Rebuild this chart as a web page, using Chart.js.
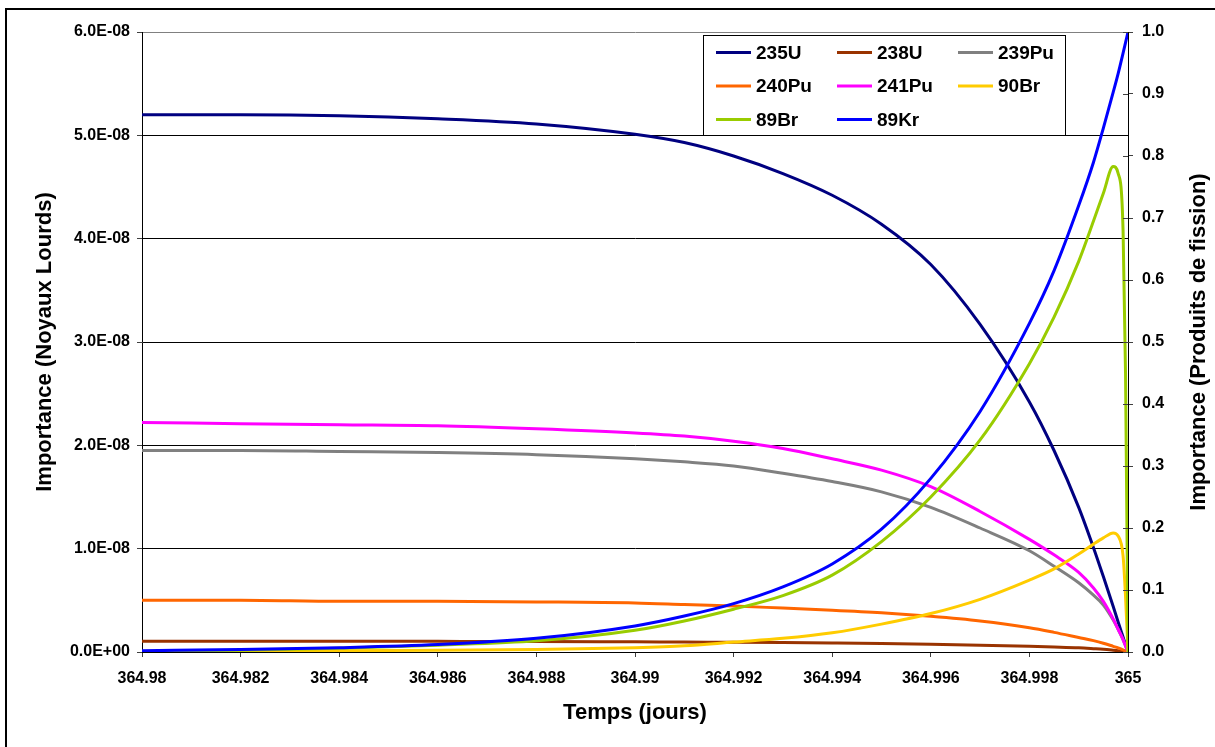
<!DOCTYPE html>
<html>
<head>
<meta charset="utf-8">
<script src="https://cdn.jsdelivr.net/npm/chart.js@4.4.0/dist/chart.umd.min.js"></script>
<style>
  html, body { margin: 0; padding: 0; background: #fff; overflow: hidden; }
  #wrap { position: relative; width: 1215px; height: 747px; }
  #frame { position: absolute; left: 5px; top: 8px; width: 1300px; height: 900px; border: 2px solid #000; }
  canvas { position: absolute; left: 0; top: 0; }
</style>
</head>
<body>
<div id="wrap">
  <div id="frame"></div>
  <canvas id="myChart" width="1215" height="747"></canvas>
</div>
<script>
/* --- donnees --- */
const temps = [364.98, 364.982, 364.984, 364.986, 364.988, 364.99, 364.991, 364.992, 364.993, 364.994,
               364.995, 364.996, 364.997, 364.998, 364.9985, 364.999, 364.9993, 364.9995, 364.9997,
               364.9998, 364.9999, 364.99995, 365];

// noyaux lourds (axe de gauche)
const u235  = [5.20e-8, 5.20e-8, 5.19e-8, 5.16e-8, 5.11e-8, 5.01e-8, 4.93e-8, 4.80e-8, 4.63e-8, 4.42e-8,
               4.14e-8, 3.75e-8, 3.17e-8, 2.42e-8, 1.95e-8, 1.40e-8, 1.01e-8, 0.73e-8, 0.44e-8,
               0.29e-8, 0.145e-8, 0.072e-8, 0];
const u238  = [1.05e-9, 1.05e-9, 1.04e-9, 1.03e-9, 1.02e-9, 0.98e-9, 0.96e-9, 0.94e-9, 0.91e-9, 0.87e-9,
               0.82e-9, 0.75e-9, 0.66e-9, 0.55e-9, 0.48e-9, 0.40e-9, 0.32e-9, 0.26e-9, 0.17e-9,
               0.12e-9, 0.07e-9, 0.03e-9, 0];
const pu239 = [1.95e-8, 1.95e-8, 1.94e-8, 1.93e-8, 1.91e-8, 1.87e-8, 1.84e-8, 1.80e-8, 1.73e-8, 1.65e-8,
               1.55e-8, 1.40e-8, 1.20e-8, 0.98e-8, 0.83e-8, 0.67e-8, 0.55e-8, 0.455e-8, 0.31e-8,
               0.22e-8, 0.12e-8, 0.06e-8, 0];
const pu240 = [0.50e-8, 0.50e-8, 0.49e-8, 0.49e-8, 0.485e-8, 0.475e-8, 0.46e-8, 0.445e-8, 0.425e-8, 0.405e-8,
               0.38e-8, 0.345e-8, 0.30e-8, 0.235e-8, 0.19e-8, 0.14e-8, 0.11e-8, 0.085e-8, 0.055e-8,
               0.04e-8, 0.02e-8, 0.01e-8, 0];
const pu241 = [2.22e-8, 2.21e-8, 2.20e-8, 2.19e-8, 2.16e-8, 2.12e-8, 2.09e-8, 2.04e-8, 1.97e-8, 1.87e-8,
               1.76e-8, 1.60e-8, 1.36e-8, 1.09e-8, 0.94e-8, 0.77e-8, 0.62e-8, 0.49e-8, 0.32e-8,
               0.22e-8, 0.12e-8, 0.06e-8, 0];

// produits de fission (axe de droite)
const br90 = [0.000, 0.001, 0.002, 0.003, 0.004, 0.007, 0.010, 0.016, 0.022, 0.031,
              0.045, 0.062, 0.085, 0.116, 0.134, 0.158, 0.174, 0.184, 0.192,
              0.187, 0.155, 0.090, 0];
const br89 = [0.001, 0.003, 0.006, 0.011, 0.018, 0.035, 0.050, 0.069, 0.091, 0.124,
              0.178, 0.250, 0.342, 0.465, 0.540, 0.630, 0.695, 0.740, 0.783,
              0.772, 0.680, 0.450, 0];
const kr89 = [0.002, 0.004, 0.007, 0.012, 0.022, 0.042, 0.058, 0.078, 0.105, 0.142,
              0.198, 0.280, 0.388, 0.530, 0.615, 0.720, 0.790, 0.845, 0.903,
              0.933, 0.966, 0.983, 1.0];

const xTicks  = [364.98, 364.982, 364.984, 364.986, 364.988, 364.99, 364.992, 364.994, 364.996, 364.998, 365];
const yTicks  = [0, 1e-8, 2e-8, 3e-8, 4e-8, 5e-8, 6e-8];
const y1Ticks = [0, 0.1, 0.2, 0.3, 0.4, 0.5, 0.6, 0.7, 0.8, 0.9, 1.0];

const series = [
  { label: '235U',  data: u235,  color: '#000080', axis: 'y' },
  { label: '238U',  data: u238,  color: '#993300', axis: 'y' },
  { label: '239Pu', data: pu239, color: '#808080', axis: 'y' },
  { label: '240Pu', data: pu240, color: '#FF6600', axis: 'y' },
  { label: '241Pu', data: pu241, color: '#FF00FF', axis: 'y' },
  { label: '90Br',  data: br90,  color: '#FFCC00', axis: 'y1' },
  { label: '89Br',  data: br89,  color: '#99CC00', axis: 'y1' },
  { label: '89Kr',  data: kr89,  color: '#0000FF', axis: 'y1' },
];

const FONT = "'Liberation Sans', Arial, sans-serif";
Chart.defaults.font.family = FONT;
Chart.defaults.color = '#000';

function fmtE(v) {
  const parts = v.toExponential(1).split('e');
  const n = parseInt(parts[1], 10);
  return parts[0] + 'E' + (n < 0 ? '-' : '+') + String(Math.abs(n)).padStart(2, '0');
}

const datasets = series.map((s, i) => ({
  label: s.label,
  data: temps.map((t, k) => ({ x: t, y: s.data[k] })),
  borderColor: s.color,
  backgroundColor: s.color,
  yAxisID: s.axis,
  order: series.length - i,
  borderWidth: 3,
  pointRadius: 0,
  fill: false,
  cubicInterpolationMode: 'monotone'
}));

// legende encadree dans la zone du graphique
const legendBox = {
  id: 'legendBox',
  afterDraw(chart) {
    const ctx = chart.ctx;
    ctx.save();
    ctx.fillStyle = '#fff';
    ctx.fillRect(703, 35, 363, 101);
    ctx.strokeStyle = '#000';
    ctx.lineWidth = 1;
    ctx.strokeRect(703.5, 35.5, 362, 100);
    ctx.font = 'bold 19px ' + FONT;
    ctx.textBaseline = 'middle';
    chart.data.datasets.forEach((ds, i) => {
      const x = 716 + (i % 3) * 121;
      const y = 52.5 + Math.floor(i / 3) * 33.5;
      ctx.strokeStyle = ds.borderColor;
      ctx.lineWidth = 3;
      ctx.beginPath();
      ctx.moveTo(x, y);
      ctx.lineTo(x + 35, y);
      ctx.stroke();
      ctx.fillStyle = '#000';
      ctx.fillText(ds.label, x + 40, y + 1);
    });
    ctx.restore();
  }
};

// titre de l'axe de droite (lu de bas en haut) + graduations croisees
const rightAxisExtras = {
  id: 'rightAxisExtras',
  afterDraw(chart) {
    const ctx = chart.ctx;
    const sc = chart.scales.y1;
    const area = chart.chartArea;
    ctx.save();
    ctx.strokeStyle = '#404040';
    ctx.lineWidth = 1;
    sc.ticks.forEach(t => {
      const py = Math.round(sc.getPixelForValue(t.value)) + 0.5;
      ctx.beginPath();
      ctx.moveTo(area.right - 5, py);
      ctx.lineTo(area.right, py);
      ctx.stroke();
    });
    ctx.translate(1199, (area.top + area.bottom) / 2);
    ctx.rotate(-Math.PI / 2);
    ctx.font = 'bold 22px ' + FONT;
    ctx.fillStyle = '#000';
    ctx.textAlign = 'center';
    ctx.textBaseline = 'middle';
    ctx.fillText('Importance (Produits de fission)', 0, 0);
    ctx.restore();
  }
};

const ctx = document.getElementById('myChart');

const config = {
  type: 'line',
  data: { datasets },
  options: {
    responsive: false,
    animation: false,
    devicePixelRatio: 1,
    layout: { padding: { top: 32, left: 0, right: 0, bottom: 0 } },
    plugins: {
      legend: { display: false },
      tooltip: { enabled: false }
    },
    scales: {
      x: {
        type: 'linear',
        min: 364.98,
        max: 365,
        afterBuildTicks: s => { s.ticks = xTicks.map(v => ({ value: v })); },
        afterFit: s => { s.height = 95; },
        ticks: {
          autoSkip: false,
          maxRotation: 0,
          padding: 12,
          font: { size: 16, weight: 'bold' },
          callback: v => String(+v.toFixed(3))
        },
        grid: { drawOnChartArea: false, tickLength: 5, tickColor: '#404040' },
        border: { color: '#000', width: 1 },
        title: {
          display: true,
          text: 'Temps (jours)',
          font: { size: 22, weight: 'bold' },
          padding: { top: 0, bottom: 21 }
        }
      },
      y: {
        position: 'left',
        min: 0,
        max: 6e-8,
        afterBuildTicks: s => { s.ticks = yTicks.map(v => ({ value: v })); },
        afterFit: s => { s.width = 142; },
        ticks: {
          padding: 7,
          font: { size: 16, weight: 'bold' },
          callback: v => fmtE(v)
        },
        grid: {
          color: c => (c.tick && c.tick.value === 6e-8) ? '#808080' : '#000',
          lineWidth: 1,
          tickLength: 5,
          tickColor: '#404040'
        },
        border: { color: '#000', width: 1 },
        title: {
          display: true,
          text: 'Importance (Noyaux Lourds)',
          font: { size: 22, weight: 'bold' },
          padding: { top: 32, bottom: 0 }
        }
      },
      y1: {
        position: 'right',
        min: 0,
        max: 1,
        afterBuildTicks: s => { s.ticks = y1Ticks.map(v => ({ value: v })); },
        afterFit: s => { s.width = 87; },
        ticks: {
          padding: 9,
          font: { size: 16, weight: 'bold' },
          callback: v => v.toFixed(1)
        },
        grid: { drawOnChartArea: false, tickLength: 5, tickColor: '#404040' },
        border: { color: '#000', width: 1 }
      }
    }
  },
  plugins: [legendBox, rightAxisExtras]
};

const myChart = new Chart(ctx, config);
</script>
</body>
</html>
